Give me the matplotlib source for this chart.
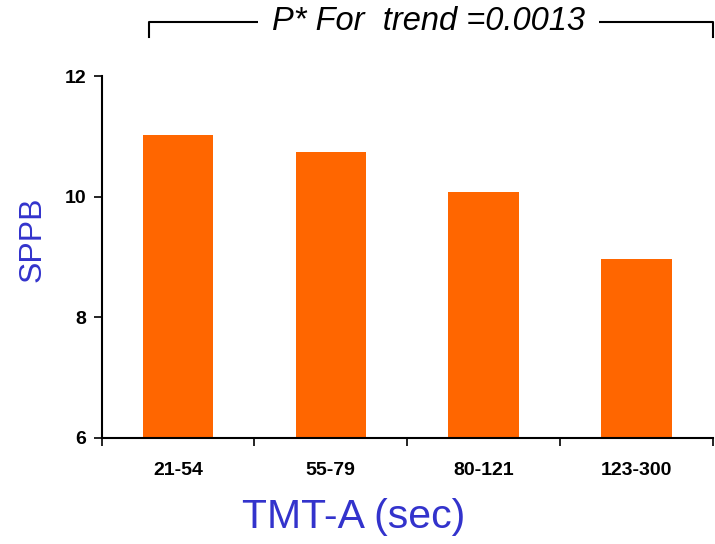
import matplotlib
matplotlib.use('Agg')
import matplotlib.pyplot as plt

groups = ["21-54", "55-79", "80-121", "123-300"]
sppb = [11.02, 10.75, 10.08, 8.97]
p_text = "P* For  trend =0.0013"

BAR = "#FF6600"
BLUE = "#3333CC"

fig = plt.figure(figsize=(7.15, 5.44), dpi=100)
ax = fig.add_axes([0.142, 0.195, 0.855, 0.665])

x = list(range(len(groups)))
ax.bar(x, sppb, width=0.46, color=BAR, zorder=2)

ax.set_ylim(6, 12)
ax.set_yticks([6, 8, 10, 12])
ax.set_xlim(-0.5, len(groups) - 0.5)
# boundary ticks as major, category labels as minor
ax.set_xticks([i + 0.5 for i in range(-1, len(groups))])
ax.set_xticklabels([])
ax.set_xticks(x, minor=True)
ax.set_xticklabels(groups, minor=True)
ax.tick_params(axis='x', which='minor', length=0, pad=17)
ax.tick_params(axis='x', which='major', length=6, width=1.2, direction='out')
ax.tick_params(axis='y', length=6, width=1.2, direction='out', pad=5)
for lab in ax.get_yticklabels() + ax.get_xticklabels(minor=True):
    lab.set_fontweight('bold')
    lab.set_fontsize(14)
    lab.set_family('Liberation Sans')

for s in ['top', 'right']:
    ax.spines[s].set_visible(False)
for s in ['left', 'bottom']:
    ax.spines[s].set_linewidth(1.5)

ax.set_xlabel("TMT-A (sec)", fontsize=29.5, color=BLUE, family='Liberation Sans')
ax.xaxis.set_label_coords(0.413, -0.165)
ax.set_ylabel("SPPB", fontsize=23, color=BLUE, family='Liberation Sans')
ax.yaxis.set_label_coords(-0.088, 0.55)

# bracket with p-value on top
bx0, bx1 = -0.19, 3.5
by, byd = 12.9, 12.65
ax.plot([bx0, bx0, bx1, bx1], [byd, by, by, byd], color='black', lw=1.5,
        clip_on=False, zorder=3)
ax.text(1.64, by, p_text, fontsize=23.5, style='italic', family='Liberation Sans',
        ha='center', va='center', clip_on=False, zorder=4,
        bbox=dict(facecolor='white', edgecolor='none', pad=10))

fig.savefig("out.png", dpi=100)
